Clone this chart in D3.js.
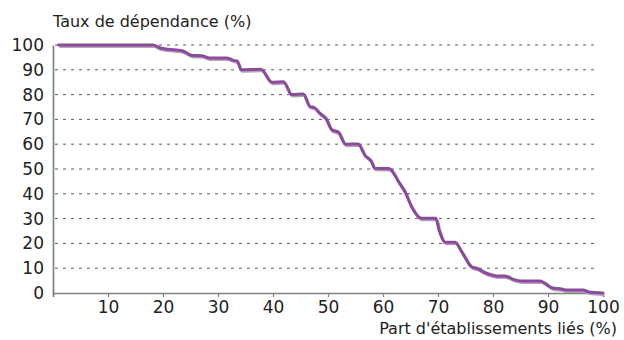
<!DOCTYPE html>
<html>
<head>
<meta charset="utf-8">
<script src="https://cdn.jsdelivr.net/npm/d3@7"></script>
<style>
  html, body { margin: 0; padding: 0; background: #fff; }
  svg { display: block; }
  text { font-family: "DejaVu Sans", Verdana, sans-serif; fill: #222; }
</style>
</head>
<body>
<svg id="chart" width="624" height="340"></svg>
<script>
// Part d'établissements liés (%) — x values of the curve
const partEtablissements = [
  1, 18.2, 19.5, 21, 23.5, 25.3, 27, 28.5, 31.5, 32.8, 33.5, 34.2, 37.8,
  39.8, 41.9, 43.4, 45.5, 46.7, 47.5, 48.5, 49.6, 50.7, 51.9, 53.2, 55.5,
  56.7, 57.9, 58.5, 61, 61.5, 62.8, 64, 65.2, 67, 69.6, 70.2, 71.3, 73.1,
  74.3, 76.1, 77, 78.9, 80.7, 82.2, 83.7, 85.2, 88.5, 89.5, 90.7, 92.5,
  93.4, 96.4, 97.3, 100
];
// Taux de dépendance (%) — y values of the curve
const tauxDependance = [
  100, 100, 98.8, 98.3, 97.7, 95.8, 95.7, 94.8, 94.8, 93.8, 93.5, 90, 90.2,
  85, 85.2, 80, 80.2, 75.2, 74.8, 72.5, 70.5, 65.8, 64.8, 60, 60.1,
  55.6, 53, 50.3, 50.2, 49.6, 45, 40.8, 34.8, 30.1, 30.1, 25.4, 20.5, 20.5,
  16.7, 10.6, 10, 7.9, 6.9, 6.9, 5.5, 4.8, 4.8, 3.9, 2.1, 1.6,
  1.2, 1.2, 0.5, 0
];
const xTicks = [10, 20, 30, 40, 50, 60, 70, 80, 90, 100];
const yTicks = [0, 10, 20, 30, 40, 50, 60, 70, 80, 90, 100];
const yTitle = "Taux de dépendance (%)";
const xTitle = "Part d'établissements liés (%)";

const svg = d3.select("#chart");
const x = d3.scaleLinear().domain([0, 100]).range([53, 603]);
const y = d3.scaleLinear().domain([0, 100]).range([293, 45]);

// dotted horizontal gridlines
svg.append("g")
  .selectAll("line")
  .data(yTicks.filter(d => d > 0))
  .join("line")
  .attr("x1", x(0) + 2)
  .attr("x2", 598)
  .attr("y1", d => y(d))
  .attr("y2", d => y(d))
  .attr("stroke", "#5a5a5a")
  .attr("stroke-width", 1)
  .attr("stroke-dasharray", "3,5");

// y axis
const yAxis = svg.append("g")
  .attr("transform", `translate(${x(0)},0)`)
  .call(d3.axisLeft(y).tickValues(yTicks).tickSize(0).tickPadding(9));
yAxis.select(".domain").attr("stroke", "#808080").attr("stroke-width", 1.7);
yAxis.selectAll("text")
  .style("font-family", '"DejaVu Sans", Verdana, sans-serif')
  .style("font-size", "17px")
  .attr("fill", "#222");

// x axis
const xAxis = svg.append("g")
  .attr("transform", `translate(0,${y(0)})`)
  .call(d3.axisBottom(x).tickValues(xTicks).tickSize(4).tickPadding(4));
xAxis.select(".domain").attr("stroke", "#808080").attr("stroke-width", 1.7);
xAxis.selectAll(".tick line").attr("stroke", "#808080").attr("stroke-width", 1.2);
xAxis.selectAll("text")
  .style("font-family", '"DejaVu Sans", Verdana, sans-serif')
  .style("font-size", "17px")
  .attr("fill", "#222");

const points = partEtablissements.map((v, i) => [v, tauxDependance[i]]);
const line = d3.line()
  .x(d => x(d[0]))
  .y(d => y(d[1]))
  .curve(d3.curveMonotoneX);

// soft shadow under the curve
svg.append("path")
  .datum(points)
  .attr("d", line)
  .attr("fill", "none")
  .attr("stroke", "#aaaaaa")
  .attr("stroke-width", 3)
  .attr("stroke-linejoin", "round")
  .attr("transform", "translate(1,1.5)");

svg.append("path")
  .datum(points)
  .attr("d", line)
  .attr("fill", "none")
  .attr("stroke", "#8b4a9e")
  .attr("stroke-width", 3)
  .attr("stroke-linejoin", "round")
  .attr("stroke-linecap", "round");

// axis titles
svg.append("text")
  .attr("x", 53)
  .attr("y", 27)
  .style("font-size", "16px")
  .text(yTitle);

svg.append("text")
  .attr("x", 617)
  .attr("y", 334)
  .attr("text-anchor", "end")
  .style("font-size", "16px")
  .text(xTitle);
</script>
</body>
</html>
